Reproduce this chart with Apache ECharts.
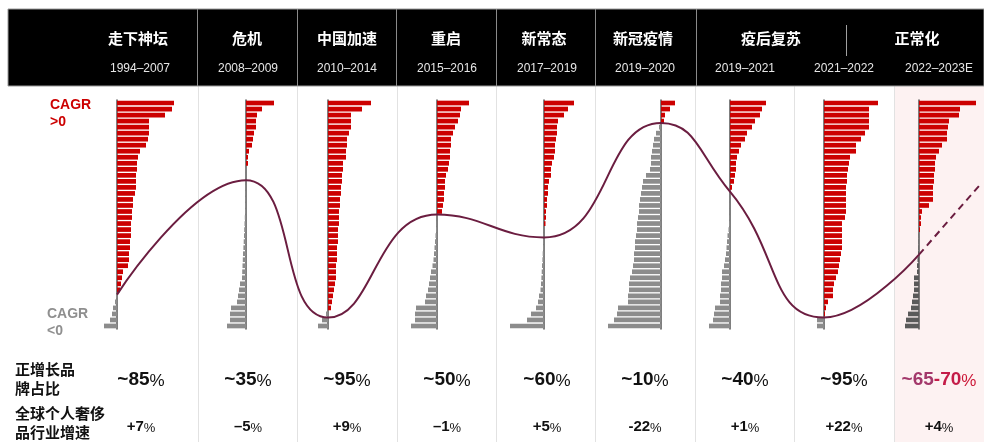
<!DOCTYPE html>
<html>
<head>
<meta charset="utf-8">
<script src="https://cdn.jsdelivr.net/npm/echarts@6/dist/echarts.min.js"></script>
<style>
  html, body { margin: 0; padding: 0; background: #ffffff; }
  #chart { width: 984px; height: 442px; }
</style>
</head>
<body>
<div id="chart"></div>
<script>
// ---- Data ----------------------------------------------------------------
const periods = ['1994–2007', '2008–2009', '2010–2014', '2015–2016', '2017–2019',
                 '2019–2020', '2019–2021', '2021–2022', '2022–2023E'];
const phaseTitles = ['走下神坛', '危机', '中国加速', '重启', '新常态', '新冠疫情', '疫后复苏', '正常化'];

// Brand CAGR per period, ranked from highest to lowest (38 brands each)
const cagr1994_2007 = [57, 55, 48, 32, 32, 32, 31, 29, 23, 21, 20, 20, 19, 19, 19, 18, 16, 16, 15, 15,
  14, 14, 14, 13, 13, 12, 12, 11, 6, 5, 4, 3, -1, -2, -4, -5, -7, -13];
const cagr2008_2009 = [28, 16, 11, 10, 10, 8, 7, 6, 3, 2, 2, -0.3, -0.3, -0.4, -0.5, -0.6, -0.7, -0.8, -1,
  -1.2, -1.5, -1.8, -2, -2.3, -2.6, -3, -3.2, -3.5, -3.8, -4, -6, -7, -8, -9, -15, -16, -16, -19];
const cagr2010_2014 = [43, 34, 23, 23, 23, 21, 19, 19, 18, 18, 15, 15, 14, 14, 13, 13, 12, 12, 11, 11,
  11, 10, 10, 10, 9, 9, 9, 8, 8, 8, 7, 6, 5, 4, 3, -2, -6, -10];
const cagr2015_2016 = [32, 24, 23, 21, 18, 16, 14, 14, 13, 13, 12, 11, 9, 8, 8, 7, 7, 6, 5,
  -0.3, -0.5, -1, -1.5, -2, -2.5, -3, -3.5, -4.5, -6, -7, -8, -9, -11, -12, -21, -22, -22, -26];
const cagr2017_2019 = [30, 24, 20, 14, 13, 13, 12, 11, 11, 10, 8, 7, 7, 5, 4, 4, 3, 3, 2, 2, 1.5,
  -0.3, -0.5, -0.8, -1, -1.3, -1.6, -2, -2.3, -2.6, -3, -3.5, -5, -6, -8, -13, -17, -34];
const cagr2019_2020 = [14, 9, 4, 3, -2, -5, -7, -8, -9, -10, -10, -11, -15, -18, -19, -20, -21, -22, -22,
  -23, -24, -24, -25, -26, -26, -27, -27, -28, -29, -31, -32, -32, -33, -33, -43, -44, -47, -53];
const cagr2019_2021 = [36, 32, 30, 25, 22, 17, 15, 11, 9, 7, 6, 6, 5, 4, 2,
  -0.1, -0.2, -0.3, -0.4, -0.7, -1, -1.5, -2.5, -3, -3.5, -4, -5, -6, -8, -8, -9, -9, -10, -10, -15, -16, -17, -21];
const cagr2021_2022 = [54, 45, 45, 45, 45, 41, 37, 32, 32, 26, 25, 24, 23, 23, 22, 22, 22, 22, 22, 21,
  18, 18, 18, 18, 18, 17, 16, 15, 14, 12, 10, 9, 9, 4, 2, 1, -7, -7];
const cagr2022_2023E = [57, 41, 40, 30, 29, 28, 28, 23, 20, 17, 16, 16, 15, 15, 14, 14, 14, 10, 3, 2, 2, 1,
  -0.2, -0.3, -0.5, -1, -1.5, -2, -2, -5, -5, -5, -6, -7, -8, -11, -13, -14];

// Share of brands with positive growth (%), and the outlook trend end
const positiveShare = [85, 35, 95, 50, 60, 10, 40, 95, 67.5];
const outlookShareEnd = 37;

// Row texts below the bars
const positiveShareText = ['~85', '~35', '~95', '~50', '~60', '~10', '~40', '~95'];
const outlookShareText = ['~65', '-70'];
const industryGrowthText = ['+7', '–5', '+9', '–1', '+5', '-22', '+1', '+22', '+4'];

const periodCagr = [cagr1994_2007, cagr2008_2009, cagr2010_2014, cagr2015_2016, cagr2017_2019,
  cagr2019_2020, cagr2019_2021, cagr2021_2022, cagr2022_2023E];

// ---- Layout --------------------------------------------------------------
const W = 984, H = 442;
const AXIS_X = [117, 246, 328, 437, 544, 661, 730, 824, 919];   // zero line of each period
const COL_CX = [141, 248, 347, 447, 547, 645, 745, 844, 939];   // text centres per period
const TITLE_X = [138, 247, 347, 446, 544, 643, 771, 917];
const HEADER_SEP = [197, 297, 396, 496, 595, 696];
const BODY_SEP = [198, 297, 397, 496, 595, 695, 794, 894];
const PLOT_TOP = 100, PLOT_H = 229, HALF = 62;
const OUTLOOK_X = 980;

const RED = '#cc0000', GREY = '#8c8c8c', DARK_GREY = '#5a5a5a', CURVE = '#6b1d40';
const LATIN = '"Liberation Sans", Arial, sans-serif';
const CJK = '"Noto Sans CJK SC", sans-serif';

const chart = echarts.init(document.getElementById('chart'), null, { renderer: 'canvas' });

const rankCats = cagr1994_2007.map((_, i) => String(i + 1));
const grids = [], xAxes = [], yAxes = [], series = [];

periodCagr.forEach((vals, i) => {
  grids.push({ left: AXIS_X[i] - HALF, top: PLOT_TOP, width: HALF * 2, height: PLOT_H });
  xAxes.push({ gridIndex: i, type: 'value', min: -HALF, max: HALF, show: false });
  yAxes.push({
    gridIndex: i, type: 'category', data: rankCats, inverse: true,
    axisLine: { show: true, onZero: true, lineStyle: { color: '#555', width: 1.5 } },
    axisTick: { show: false }, axisLabel: { show: false }, splitLine: { show: false }
  });
  const neg = i === 8 ? DARK_GREY : GREY;
  series.push({
    type: 'bar', xAxisIndex: i, yAxisIndex: i, data: vals,
    barCategoryGap: '22%', silent: true, z: 2,
    itemStyle: { color: p => (p.value >= 0 ? RED : neg) }
  });
});

// Overlay grid for the positive-share curve
grids.push({ left: 0, top: PLOT_TOP, width: W, height: PLOT_H });
xAxes.push({ gridIndex: 9, type: 'value', min: 0, max: W, show: false });
yAxes.push({ gridIndex: 9, type: 'value', min: 0, max: 100, inverse: true, show: false });

series.push({
  type: 'line', xAxisIndex: 9, yAxisIndex: 9, smooth: 0.5, symbol: 'none', silent: true, z: 5,
  data: positiveShare.map((v, i) => [AXIS_X[i], v]),
  lineStyle: { color: CURVE, width: 2 }
});
series.push({
  type: 'line', xAxisIndex: 9, yAxisIndex: 9, symbol: 'none', silent: true, z: 5,
  data: [[AXIS_X[8], positiveShare[8]], [OUTLOOK_X, outlookShareEnd]],
  lineStyle: { color: CURVE, width: 2, type: [7, 5] }
});

// ---- Static decorations and text ----------------------------------------
const g = [];
// outlook column tint
g.push({ type: 'rect', z: -10, shape: { x: 894, y: 86, width: W - 894, height: H - 86 },
  style: { fill: '#fdf2f2' } });
// header band
g.push({ type: 'rect', z: 1, shape: { x: 8, y: 9, width: W - 8, height: 77 },
  style: { fill: '#000', stroke: '#9a9a9a', lineWidth: 1 } });
HEADER_SEP.forEach(x => g.push({ type: 'line', z: 2, shape: { x1: x + 0.5, y1: 9, x2: x + 0.5, y2: 86 },
  style: { stroke: '#8a8a8a', lineWidth: 1 } }));
g.push({ type: 'line', z: 2, shape: { x1: 846.5, y1: 25, x2: 846.5, y2: 56 },
  style: { stroke: '#a0a0a0', lineWidth: 1 } });
BODY_SEP.forEach(x => g.push({ type: 'line', z: -5, shape: { x1: x + 0.5, y1: 86, x2: x + 0.5, y2: H },
  style: { stroke: '#e2e2e2', lineWidth: 1 } }));

phaseTitles.forEach((t, i) => g.push({ type: 'text', z: 3, x: TITLE_X[i], y: 38,
  style: { text: t, fill: '#fff', font: 'bold 15px ' + CJK, align: 'center', verticalAlign: 'middle' } }));
periods.forEach((t, i) => g.push({ type: 'text', z: 3, x: COL_CX[i] - (i === 0 ? 1 : 0), y: 69,
  style: { text: t, fill: '#e6e6e6', font: '12px ' + LATIN, align: 'center', verticalAlign: 'middle' } }));

// CAGR legends on the left
[['CAGR', 105, RED], ['>0', 122, RED], ['CAGR', 314, '#8f8f8f'], ['<0', 331, '#8f8f8f']].forEach(([t, y, c], k) =>
  g.push({ type: 'text', x: k < 2 ? 50 : 47, y,
    style: { text: t, fill: c, font: 'bold 14px ' + LATIN, align: 'left', verticalAlign: 'middle' } }));

// row captions
[['正增长品', 369], ['牌占比', 388], ['全球个人奢侈', 413], ['品行业增速', 432]].forEach(([t, y]) =>
  g.push({ type: 'text', x: 15, y,
    style: { text: t, fill: '#111', font: 'bold 15px ' + CJK, align: 'left', verticalAlign: 'middle' } }));

// positive-share row
positiveShareText.forEach((t, i) => g.push({ type: 'text', x: COL_CX[i], y: 380,
  style: { text: '{n|' + t + '}{p|%}', align: 'center', verticalAlign: 'middle',
    rich: { n: { font: 'bold 19px ' + LATIN, fill: '#111', verticalAlign: 'bottom' },
            p: { font: '17px ' + LATIN, fill: '#111', verticalAlign: 'bottom' } } } }));
g.push({ type: 'text', x: COL_CX[8], y: 380,
  style: { text: '{a|' + outlookShareText[0] + '}{b|' + outlookShareText[1] + '}{p|%}', align: 'center', verticalAlign: 'middle',
    rich: { a: { font: 'bold 19px ' + LATIN, fill: '#a3386b', verticalAlign: 'bottom' },
            b: { font: 'bold 19px ' + LATIN, fill: '#c41c48', verticalAlign: 'bottom' },
            p: { font: '17px ' + LATIN, fill: '#cc1838', verticalAlign: 'bottom' } } } });

// industry growth row
industryGrowthText.forEach((t, i) => g.push({ type: 'text', x: COL_CX[i], y: 427,
  style: { text: '{n|' + t + '}{p|%}', align: 'center', verticalAlign: 'middle',
    rich: { n: { font: 'bold 15px ' + LATIN, fill: '#111', verticalAlign: 'bottom' },
            p: { font: '13px ' + LATIN, fill: '#111', verticalAlign: 'bottom' } } } }));

chart.setOption({
  animation: false,
  backgroundColor: '#ffffff',
  grid: grids,
  xAxis: xAxes,
  yAxis: yAxes,
  series: series,
  graphic: { elements: g }
});
</script>
</body>
</html>
